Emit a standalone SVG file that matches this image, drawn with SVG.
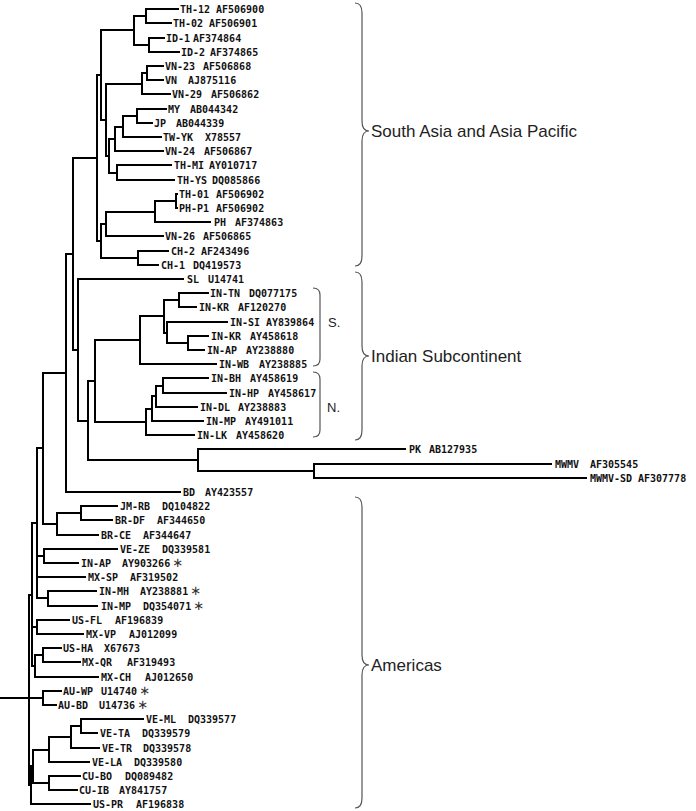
<svg xmlns="http://www.w3.org/2000/svg" width="696" height="811" viewBox="0 0 696 811">
<style>
.br{fill:none;stroke:#000;stroke-width:2;stroke-linecap:square;stroke-linejoin:miter}
.lb{font-family:"DejaVu Sans Mono","Liberation Mono",monospace;font-size:10px;font-weight:bold;fill:#111}
.st{font-family:"DejaVu Sans",sans-serif;font-size:13px;font-weight:normal;fill:#333}
.bc{fill:none;stroke:#555;stroke-width:1.2}
.gl{font-family:"Liberation Sans",Arial,sans-serif;font-size:17px;fill:#222}
.sl{font-family:"Liberation Sans",Arial,sans-serif;font-size:13px;fill:#222}
</style>
<rect width="696" height="811" fill="#fff"/>
<g id="branches">
<path class="br" d="M178 9H146V23H171M164 38H149V52H179M146 16H134V45H149M163 66H147V80H163M147 73H142V94H170M166 109H137V123H152M137 116H123V137H161M123 127H115V151H163M171 165H117V180H174M115 139H109V173H117M142 84H106V156H109M134 30H101V120H106M177 194H176V208H177M176 201H155V222H210M155 212H106V236H163M168 251H138V265H158M106 224H101V258H138M101 75H97V241H101M97 158H73V350H78"/>
<path class="br" d="M208 293H179V307H196M208 336H188V350H204M227 322H167V343H188M179 300H164V333H167M164 316H140V364H216M208 378H163V393H226M163 386H156V407H197M156 396H152V421H203M152 409H146V435H194M140 340H95V422H146M551 464H314V478H586M405 449H198V471H314M95 381H88V460H198M183 279H78V421H88M73 254H66V492H180M66 373H43V524H57"/>
<path class="br" d="M117 506H81V520H112M81 513H57V535H98M117 549H44V563H78M96 591H48V606H97M43 448H37V598H48M37 556H44M37 577H85M69 620H37V634H83M61 648H43V662H80M43 655H35V677H98M37 523H32V666H35M32 627H37M61 691H43V705H56M143 719H81V733H97M81 726H71V748H99M71 737H49V762H89M80 776H49V790H77M49 750H33V783H49M33 766H31V804H90M32 595H29V785H31M0 698H43"/>
</g>
<g id="n01"><text class="lb" y="12.6"><tspan x="180">TH-12</tspan><tspan x="216">AF506900</tspan></text></g>
<g id="n02"><text class="lb" y="26.6"><tspan x="173">TH-02</tspan><tspan x="209">AF506901</tspan></text></g>
<g id="n03"><text class="lb" y="41.6"><tspan x="166">ID-1</tspan><tspan x="193">AF374864</tspan></text></g>
<g id="n04"><text class="lb" y="55.6"><tspan x="181">ID-2</tspan><tspan x="210">AF374865</tspan></text></g>
<g id="n05"><text class="lb" y="69.6"><tspan x="165">VN-23</tspan><tspan x="203">AF506868</tspan></text></g>
<g id="n06"><text class="lb" y="83.6"><tspan x="165">VN</tspan><tspan x="188">AJ875116</tspan></text></g>
<g id="n07"><text class="lb" y="97.6"><tspan x="172">VN-29</tspan><tspan x="211">AF506862</tspan></text></g>
<g id="n08"><text class="lb" y="112.6"><tspan x="168">MY</tspan><tspan x="190">AB044342</tspan></text></g>
<g id="n09"><text class="lb" y="126.6"><tspan x="154">JP</tspan><tspan x="176">AB044339</tspan></text></g>
<g id="n10"><text class="lb" y="140.6"><tspan x="163">TW-YK</tspan><tspan x="205">X78557</tspan></text></g>
<g id="n11"><text class="lb" y="154.6"><tspan x="165">VN-24</tspan><tspan x="204">AF506867</tspan></text></g>
<g id="n12"><text class="lb" y="168.6"><tspan x="174">TH-MI</tspan><tspan x="209">AY010717</tspan></text></g>
<g id="n13"><text class="lb" y="183.6"><tspan x="177">TH-YS</tspan><tspan x="212">DQ085866</tspan></text></g>
<g id="n14"><text class="lb" y="197.6"><tspan x="179">TH-01</tspan><tspan x="216">AF506902</tspan></text></g>
<g id="n15"><text class="lb" y="211.6"><tspan x="179">PH-P1</tspan><tspan x="216">AF506902</tspan></text></g>
<g id="n16"><text class="lb" y="225.6"><tspan x="214">PH</tspan><tspan x="235">AF374863</tspan></text></g>
<g id="n17"><text class="lb" y="239.6"><tspan x="165">VN-26</tspan><tspan x="203">AF506865</tspan></text></g>
<g id="n18"><text class="lb" y="254.6"><tspan x="171">CH-2</tspan><tspan x="201">AF243496</tspan></text></g>
<g id="n19"><text class="lb" y="268.6"><tspan x="161">CH-1</tspan><tspan x="193">DQ419573</tspan></text></g>
<g id="n20"><text class="lb" y="282.6"><tspan x="187">SL</tspan><tspan x="208">U14741</tspan></text></g>
<g id="n21"><text class="lb" y="296.6"><tspan x="210">IN-TN</tspan><tspan x="249">DQ077175</tspan></text></g>
<g id="n22"><text class="lb" y="310.6"><tspan x="199">IN-KR</tspan><tspan x="238">AF120270</tspan></text></g>
<g id="n23"><text class="lb" y="325.6"><tspan x="230">IN-SI</tspan><tspan x="266">AY839864</tspan></text></g>
<g id="n24"><text class="lb" y="339.6"><tspan x="211">IN-KR</tspan><tspan x="250">AY458618</tspan></text></g>
<g id="n25"><text class="lb" y="353.6"><tspan x="207">IN-AP</tspan><tspan x="246">AY238880</tspan></text></g>
<g id="n26"><text class="lb" y="367.6"><tspan x="219">IN-WB</tspan><tspan x="259">AY238885</tspan></text></g>
<g id="n27"><text class="lb" y="381.6"><tspan x="211">IN-BH</tspan><tspan x="250">AY458619</tspan></text></g>
<g id="n28"><text class="lb" y="396.6"><tspan x="229">IN-HP</tspan><tspan x="268">AY458617</tspan></text></g>
<g id="n29"><text class="lb" y="410.6"><tspan x="200">IN-DL</tspan><tspan x="238">AY238883</tspan></text></g>
<g id="n30"><text class="lb" y="424.6"><tspan x="206">IN-MP</tspan><tspan x="245">AY491011</tspan></text></g>
<g id="n31"><text class="lb" y="438.6"><tspan x="197">IN-LK</tspan><tspan x="236">AY458620</tspan></text></g>
<g id="n32"><text class="lb" y="452.6"><tspan x="409">PK</tspan><tspan x="429">AB127935</tspan></text></g>
<g id="n33"><text class="lb" y="467.6"><tspan x="555">MWMV</tspan><tspan x="590">AF305545</tspan></text></g>
<g id="n34"><text class="lb" y="481.6"><tspan x="590">MWMV-SD</tspan><tspan x="638">AF307778</tspan></text></g>
<g id="n35"><text class="lb" y="495.6"><tspan x="183">BD</tspan><tspan x="205">AY423557</tspan></text></g>
<g id="n36"><text class="lb" y="509.6"><tspan x="120">JM-RB</tspan><tspan x="162">DQ104822</tspan></text></g>
<g id="n37"><text class="lb" y="523.6"><tspan x="115">BR-DF</tspan><tspan x="157">AF344650</tspan></text></g>
<g id="n38"><text class="lb" y="538.6"><tspan x="101">BR-CE</tspan><tspan x="143">AF344647</tspan></text></g>
<g id="n39"><text class="lb" y="552.6"><tspan x="120">VE-ZE</tspan><tspan x="162">DQ339581</tspan></text></g>
<g id="n40"><text class="lb" y="566.6"><tspan x="81">IN-AP</tspan><tspan x="122">AY903266</tspan><tspan class="st" dx="2">∗</tspan></text></g>
<g id="n41"><text class="lb" y="580.6"><tspan x="88">MX-SP</tspan><tspan x="130">AF319502</tspan></text></g>
<g id="n42"><text class="lb" y="594.6"><tspan x="99">IN-MH</tspan><tspan x="140">AY238881</tspan><tspan class="st" dx="2">∗</tspan></text></g>
<g id="n43"><text class="lb" y="609.6"><tspan x="101">IN-MP</tspan><tspan x="143">DQ354071</tspan><tspan class="st" dx="2">∗</tspan></text></g>
<g id="n44"><text class="lb" y="623.6"><tspan x="72">US-FL</tspan><tspan x="115">AF196839</tspan></text></g>
<g id="n45"><text class="lb" y="637.6"><tspan x="86">MX-VP</tspan><tspan x="129">AJ012099</tspan></text></g>
<g id="n46"><text class="lb" y="651.6"><tspan x="63">US-HA</tspan><tspan x="104">X67673</tspan></text></g>
<g id="n47"><text class="lb" y="665.6"><tspan x="82">MX-QR</tspan><tspan x="127">AF319493</tspan></text></g>
<g id="n48"><text class="lb" y="680.6"><tspan x="101">MX-CH</tspan><tspan x="145">AJ012650</tspan></text></g>
<g id="n49"><text class="lb" y="694.6"><tspan x="63">AU-WP</tspan><tspan x="101">U14740</tspan><tspan class="st" dx="2">∗</tspan></text></g>
<g id="n50"><text class="lb" y="708.6"><tspan x="58">AU-BD</tspan><tspan x="99">U14736</tspan><tspan class="st" dx="2">∗</tspan></text></g>
<g id="n51"><text class="lb" y="722.6"><tspan x="146">VE-ML</tspan><tspan x="188">DQ339577</tspan></text></g>
<g id="n52"><text class="lb" y="736.6"><tspan x="100">VE-TA</tspan><tspan x="142">DQ339579</tspan></text></g>
<g id="n53"><text class="lb" y="751.6"><tspan x="102">VE-TR</tspan><tspan x="143">DQ339578</tspan></text></g>
<g id="n54"><text class="lb" y="765.6"><tspan x="92">VE-LA</tspan><tspan x="134">DQ339580</tspan></text></g>
<g id="n55"><text class="lb" y="779.6"><tspan x="82">CU-BO</tspan><tspan x="125">DQ089482</tspan></text></g>
<g id="n56"><text class="lb" y="793.6"><tspan x="79">CU-IB</tspan><tspan x="119">AY841757</tspan></text></g>
<g id="n57"><text class="lb" y="807.6"><tspan x="93">US-PR</tspan><tspan x="136">AF196838</tspan></text></g>
<g id="grp-south-asia">
<path class="bc" d="M355 3Q362 3 362 13V121Q362 131 369 131Q362 131 362 141V256Q362 266 355 266"/>
<text class="gl" x="371" y="137">South Asia and Asia Pacific</text>
</g>
<g id="grp-indian">
<path class="bc" d="M355 272Q362 272 362 282V346Q362 356 369 356Q362 356 362 366V430Q362 440 355 440"/>
<text class="gl" x="371" y="362">Indian Subcontinent</text>
</g>
<g id="grp-s">
<path class="bc" d="M313 288Q320 288 320 295V359Q320 366 313 366"/>
<text class="sl" x="328" y="327">S.</text>
</g>
<g id="grp-n">
<path class="bc" d="M313 372Q320 372 320 379V430Q320 437 313 437"/>
<text class="sl" x="327" y="412">N.</text>
</g>
<g id="grp-americas">
<path class="bc" d="M355 497Q362 497 362 507V655Q362 665 369 665Q362 665 362 675V798Q362 808 355 808"/>
<text class="gl" x="371" y="671">Americas</text>
</g>
</svg>
